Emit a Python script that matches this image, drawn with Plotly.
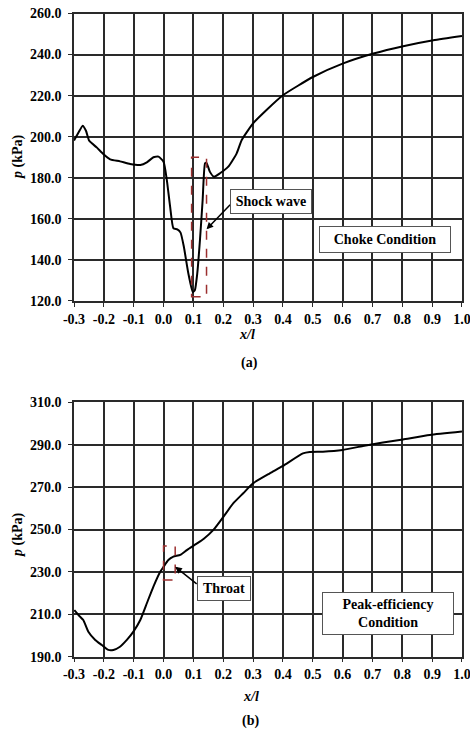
import plotly.graph_objects as go

# ---------------- data (a) choke condition ----------------
xa = [-0.300, -0.285, -0.271, -0.260, -0.249, -0.224, -0.202, -0.179, -0.146, -0.112,
      -0.078, -0.056, -0.034, -0.017, 0.000, 0.011, 0.022, 0.033, 0.046, 0.057,
      0.068, 0.083, 0.098, 0.105, 0.113, 0.122, 0.131, 0.139, 0.144, 0.155,
      0.169, 0.189, 0.217, 0.245, 0.262, 0.300, 0.345, 0.401,
      0.502, 0.602, 0.703, 0.803, 0.904, 1.000]
pa = [198.1, 202.0, 205.4, 202.9, 198.0, 194.8, 191.6, 189.0, 188.0, 186.7,
      186.2, 187.5, 190.0, 190.3, 187.8, 178.9, 165.9, 155.4, 154.9, 153.3,
      146.4, 133.5, 124.3, 125.3, 133.5, 149.7, 169.2, 187.0, 187.3, 183.0,
      180.5, 182.2, 185.4, 191.9, 198.4, 206.5, 213.0, 220.3,
      229.2, 235.7, 240.5, 244.1, 247.0, 249.1]

# ---------------- data (b) peak-efficiency condition ----------------
xb = [-0.299, -0.280, -0.269, -0.252, -0.229, -0.207, -0.185, -0.168, -0.146, -0.123,
      -0.101, -0.078, -0.056, -0.034, -0.011, 0.000, 0.016, 0.033, 0.056, 0.078,
      0.111, 0.134, 0.167, 0.201, 0.234, 0.267, 0.300, 0.356, 0.400, 0.467,
      0.490, 0.534, 0.600, 0.668, 0.735, 0.802, 0.892, 1.000]
pb = [212.0, 208.9, 207.3, 201.8, 197.9, 195.5, 193.2, 193.2, 194.7, 197.9,
      201.8, 207.3, 215.2, 223.1, 230.1, 232.4, 235.6, 237.2, 238.0, 240.3,
      243.3, 245.5, 249.8, 256.1, 262.4, 267.1, 271.8, 276.5, 280.0, 285.9,
      286.6, 286.7, 287.5, 289.4, 291.0, 292.5, 294.6, 296.2]

x_ticks = [round(-0.3 + 0.1 * i, 1) for i in range(14)]
x_ticktext = ["%.1f" % v for v in x_ticks]
ya_ticks = [120, 140, 160, 180, 200, 220, 240, 260]
yb_ticks = [190, 210, 230, 250, 270, 290, 310]

FONT = "Times New Roman, Liberation Serif, serif"

fig = go.Figure()
fig.add_trace(go.Scatter(x=xa, y=pa, mode="lines", xaxis="x", yaxis="y",
                         line=dict(color="black", width=2, shape="spline", smoothing=0.5),
                         showlegend=False))
fig.add_trace(go.Scatter(x=xb, y=pb, mode="lines", xaxis="x2", yaxis="y2",
                         line=dict(color="black", width=2, shape="spline", smoothing=0.5),
                         showlegend=False))

axis_common = dict(showgrid=True, gridcolor="#2a2a2a", gridwidth=1.5,
                   showline=True, linecolor="#2a2a2a", linewidth=1.5, mirror=True,
                   ticks="outside", ticklen=4, tickcolor="#2a2a2a",
                   tickfont=dict(family=FONT, size=14, color="black", weight="bold"),
                   ticklabeloverflow="allow", automargin=False,
                   zeroline=False, fixedrange=True)

fig.update_layout(
    width=470, height=733,
    margin=dict(l=0, r=0, t=0, b=0, autoexpand=False),
    paper_bgcolor="white", plot_bgcolor="white",
    xaxis=dict(domain=[74/470, 462/470], range=[-0.3001, 1.0001], anchor="y",
               tickvals=x_ticks, ticktext=x_ticktext, **axis_common),
    yaxis=dict(domain=[1 - 301/733, 1 - 13.5/733], range=[119.99, 260.01], anchor="x",
               tickvals=ya_ticks, ticktext=["%.1f" % v for v in ya_ticks],
               ticklabelstandoff=4, **axis_common),
    xaxis2=dict(domain=[74/470, 462/470], range=[-0.3001, 1.0001], anchor="y2",
                tickvals=x_ticks, ticktext=x_ticktext, **axis_common),
    yaxis2=dict(domain=[1 - 656.7/733, 1 - 402.3/733], range=[189.99, 310.01], anchor="x2",
                tickvals=yb_ticks, ticktext=["%.1f" % v for v in yb_ticks],
                ticklabelstandoff=4, **axis_common),
    showlegend=False,
)

# red dashed boxes
fig.add_shape(type="rect", xref="x", yref="y", x0=0.094, x1=0.144, y0=122, y1=190,
              line=dict(color="#9c2f2f", width=1.5, dash="dash"))
fig.add_shape(type="rect", xref="x2", yref="y2", x0=0.0, x1=0.039, y0=226.2, y1=242.2,
              line=dict(color="#9c2f2f", width=1.5, dash="dash"))

lab_font = dict(family=FONT, size=14, color="black", weight="bold")

# arrows
fig.add_annotation(x=0.144, y=154.9, ax=0.228, ay=167.6, xref="x", yref="y",
                   axref="x", ayref="y", text="", showarrow=True,
                   arrowhead=2, arrowsize=0.9, arrowwidth=1.5, arrowcolor="black")
fig.add_annotation(x=0.039, y=232.4, ax=0.116, ay=223.8, xref="x2", yref="y2",
                   axref="x2", ayref="y2", text="", showarrow=True,
                   arrowhead=2, arrowsize=0.9, arrowwidth=1.5, arrowcolor="black")

# label boxes
fig.add_annotation(x=0.36, y=168.45, xref="x", yref="y", text="Shock wave",
                   showarrow=False, font=dict(family=FONT, size=14, color="black", weight="bold"),
                   bgcolor="white", bordercolor="#555", borderwidth=1, borderpad=4, width=72)
fig.add_annotation(x=0.743, y=149.9, xref="x", yref="y", text="Choke Condition",
                   showarrow=False, font=lab_font,
                   bgcolor="white", bordercolor="#555", borderwidth=1, borderpad=5, width=120)
fig.add_annotation(x=0.2025, y=222.4, xref="x2", yref="y2", text="Throat",
                   showarrow=False, font=dict(family=FONT, size=14, color="black", weight="bold"),
                   bgcolor="white", bordercolor="#555", borderwidth=1, borderpad=4, width=44)
fig.add_annotation(x=0.751, y=210.3, xref="x2", yref="y2",
                   text="Peak-efficiency<br>Condition",
                   showarrow=False, font=lab_font,
                   bgcolor="white", bordercolor="#555", borderwidth=1, borderpad=4, width=122)

# axis titles and panel labels
def txt(x, y, s, size=14, angle=0):
    fig.add_annotation(x=x / 470, y=1 - y / 733, xref="paper", yref="paper", text=s,
                       showarrow=False, textangle=angle,
                       font=dict(family=FONT, size=size, color="black", weight="bold"),
                       xanchor="center", yanchor="middle")

txt(18, 157, "<i>p</i> (kPa)", 14, -90)
txt(18, 535, "<i>p</i> (kPa)", 14, -90)
txt(247, 334, "<i>x/l</i>", 14)
txt(249, 363, "(a)", 14)
txt(251, 696, "<i>x/l</i>", 14)
txt(250, 721, "(b)", 14)

fig.write_html("out.html")
